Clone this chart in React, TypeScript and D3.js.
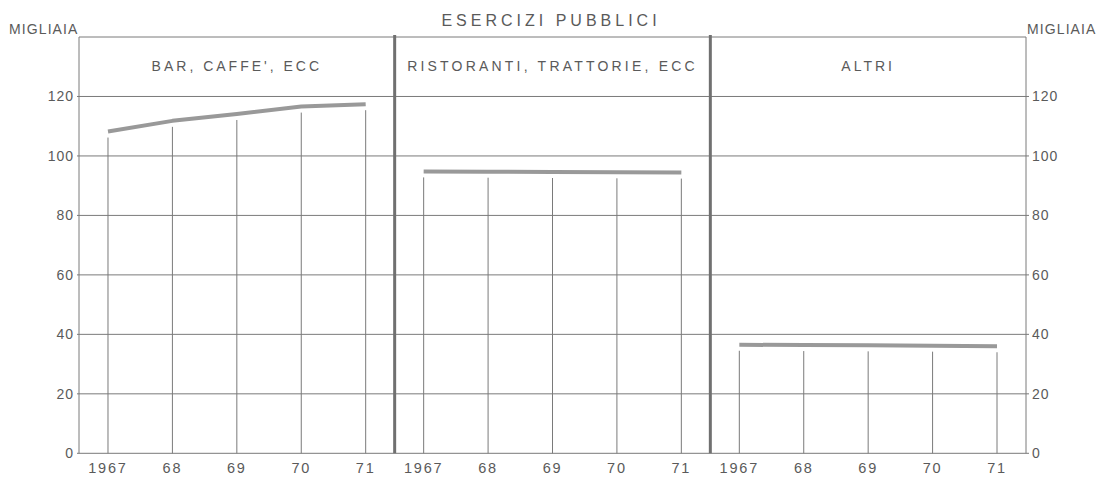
import React from "react";
import * as d3 from "d3";

const panelTitles = ["BAR, CAFFE', ECC", "RISTORANTI, TRATTORIE, ECC", "ALTRI"];
const yearLabels = ["1967", "68", "69", "70", "71"];
const barCaffe = [108.2, 111.8, 114.1, 116.6, 117.4];
const ristoranti = [94.8, 94.7, 94.6, 94.5, 94.4];
const altri = [36.5, 36.4, 36.3, 36.2, 36.0];
const yTicks = [0, 20, 40, 60, 80, 100, 120];
const seriesList = [barCaffe, ristoranti, altri];

const W = 1100;
const H = 479;
const left = 79;
const right = 1026;
const top = 37;
const bottom = 453.3;
const FONT = "'Liberation Sans', Arial, sans-serif";
const TEXT = "#5a5a5a";
const GRID = "#7a7a7a";

export default function App() {
  const y = d3.scaleLinear().domain([0, 140]).range([bottom, top]);
  const panelScale = d3
    .scaleBand<number>()
    .domain([0, 1, 2])
    .range([left, right])
    .paddingInner(0)
    .paddingOuter(0);
  const bw = panelScale.bandwidth();
  const titleSpacing = [3, 3.2, 3];

  return (
    <svg
      width={W}
      height={H}
      style={{ position: "absolute", left: 0, top: 0, background: "#fff" }}
      fontFamily={FONT}
    >
      {yTicks.map((t) => (
        <g key={"g" + t}>
          <line x1={left - 2} x2={right + 3} y1={y(t)} y2={y(t)} stroke={GRID} strokeWidth={1} />
          <text x={left - 5} y={y(t) + 5} textAnchor="end" fontSize={14} fill={TEXT} letterSpacing={1}>
            {t}
          </text>
          <text x={right + 6} y={y(t) + 5} textAnchor="start" fontSize={14} fill={TEXT} letterSpacing={1}>
            {t}
          </text>
        </g>
      ))}
      <line x1={left} x2={right} y1={top} y2={top} stroke={GRID} strokeWidth={1} />
      <line x1={left} x2={left} y1={top} y2={bottom} stroke={GRID} strokeWidth={1} />
      <line x1={right} x2={right} y1={top} y2={bottom} stroke={GRID} strokeWidth={1} />

      <text x={9} y={34} fontSize={14} fill={TEXT} letterSpacing={1.1}>
        MIGLIAIA
      </text>
      <text x={right + 1} y={34} fontSize={14} fill={TEXT} letterSpacing={1.1}>
        MIGLIAIA
      </text>
      <text x={551} y={26} textAnchor="middle" fontSize={16} fill={TEXT} letterSpacing={4}>
        ESERCIZI PUBBLICI
      </text>

      {seriesList.map((vals, p) => {
        const x0 = panelScale(p) as number;
        const x = d3.scalePoint<string>().domain(yearLabels).range([x0, x0 + bw]).padding(0.45);
        const pts: [number, number][] = vals.map((v, i) => [x(yearLabels[i]) as number, y(v)]);
        const path = d3.line()(pts) as string;
        return (
          <g key={"p" + p}>
            <text
              x={x0 + bw / 2}
              y={71}
              textAnchor="middle"
              fontSize={14}
              fill={TEXT}
              letterSpacing={titleSpacing[p]}
            >
              {panelTitles[p]}
            </text>
            {vals.map((v, i) => (
              <line
                key={"v" + i}
                x1={x(yearLabels[i]) as number}
                x2={x(yearLabels[i]) as number}
                y1={y(0)}
                y2={y(v) + 6}
                stroke={GRID}
                strokeWidth={1}
              />
            ))}
            <path d={path} fill="none" stroke="#999" strokeWidth={4} strokeLinejoin="round" />
            {yearLabels.map((lab) => (
              <text
                key={"x" + lab}
                x={x(lab) as number}
                y={473}
                textAnchor="middle"
                fontSize={14.5}
                fill={TEXT}
                letterSpacing={1.8}
              >
                {lab}
              </text>
            ))}
            {p > 0 && (
              <line x1={x0} x2={x0} y1={top - 2} y2={bottom} stroke="#707070" strokeWidth={3} />
            )}
          </g>
        );
      })}
    </svg>
  );
}
